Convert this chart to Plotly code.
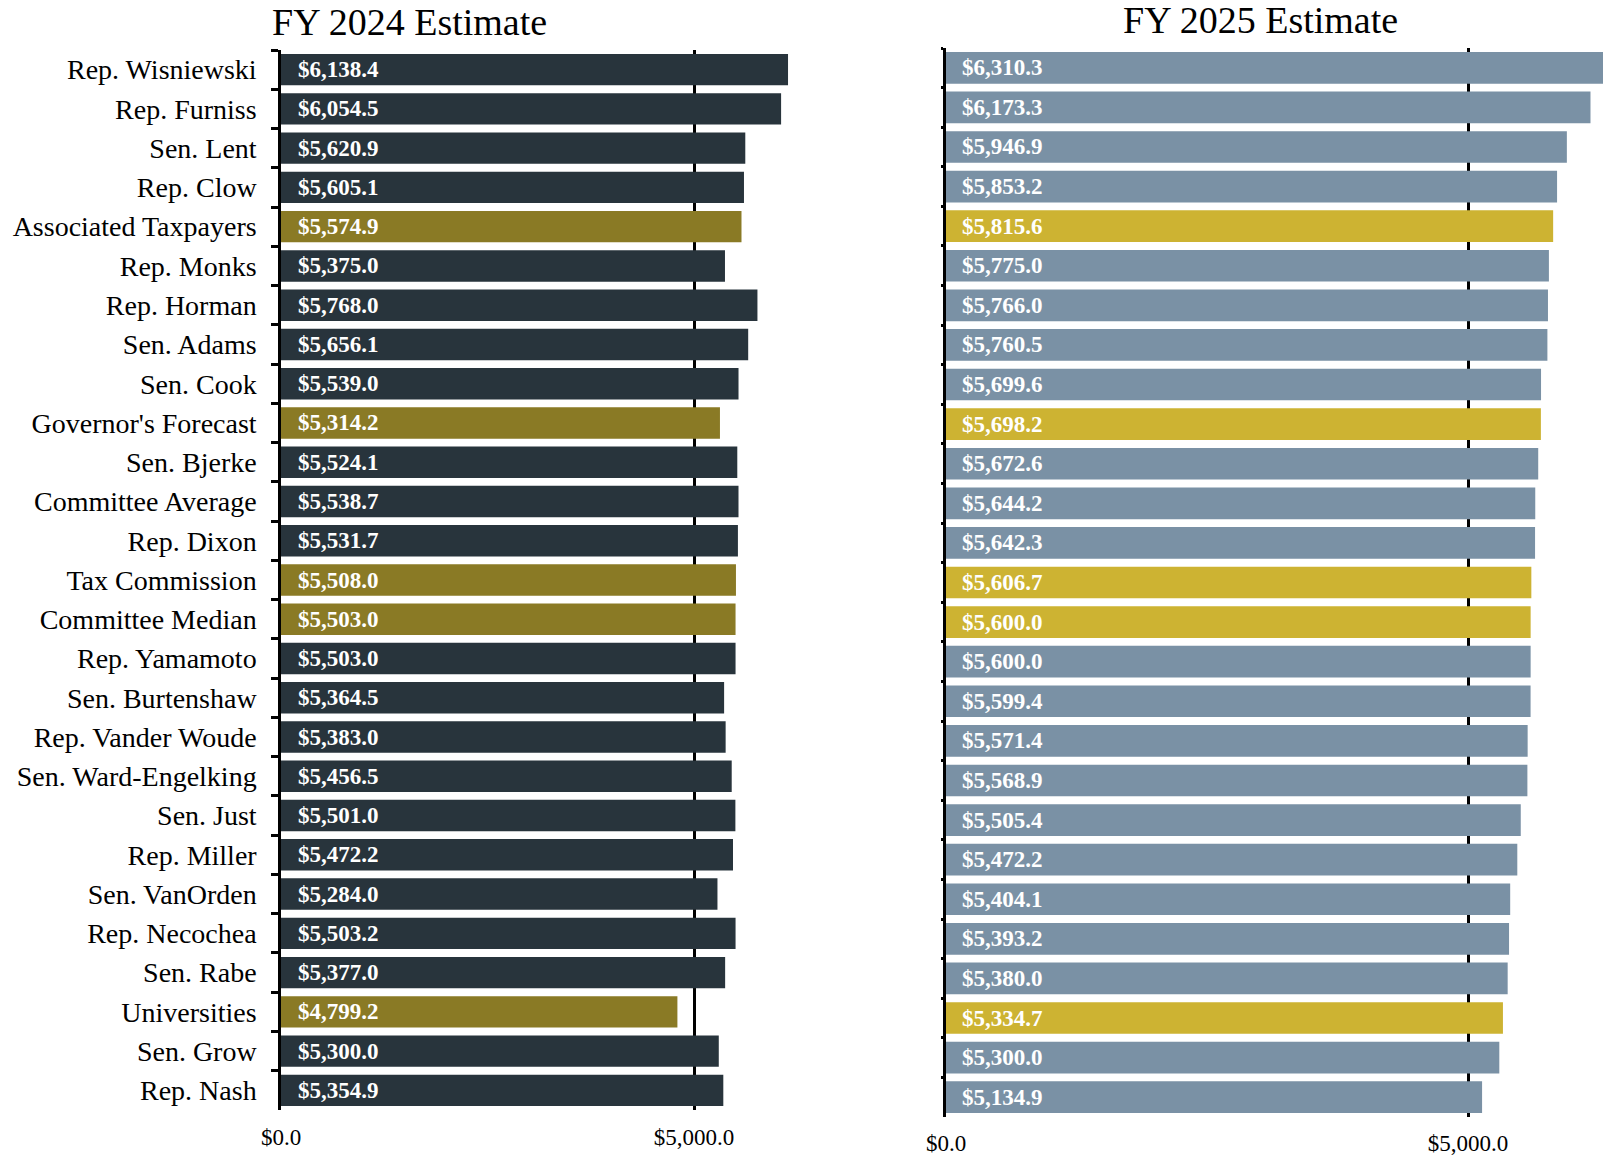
import plotly.graph_objects as go

# ---------------- data ----------------
fy2024_names = [
    "Rep. Wisniewski", "Rep. Furniss", "Sen. Lent", "Rep. Clow", "Associated Taxpayers",
    "Rep. Monks", "Rep. Horman", "Sen. Adams", "Sen. Cook", "Governor's Forecast",
    "Sen. Bjerke", "Committee Average", "Rep. Dixon", "Tax Commission", "Committee Median",
    "Rep. Yamamoto", "Sen. Burtenshaw", "Rep. Vander Woude", "Sen. Ward-Engelking", "Sen. Just",
    "Rep. Miller", "Sen. VanOrden", "Rep. Necochea", "Sen. Rabe", "Universities",
    "Sen. Grow", "Rep. Nash",
]
fy2024_values = [
    6138.4, 6054.5, 5620.9, 5605.1, 5574.9,
    5375.0, 5768.0, 5656.1, 5539.0, 5314.2,
    5524.1, 5538.7, 5531.7, 5508.0, 5503.0,
    5503.0, 5364.5, 5383.0, 5456.5, 5501.0,
    5472.2, 5284.0, 5503.2, 5377.0, 4799.2,
    5300.0, 5354.9,
]
fy2024_highlight = ["Associated Taxpayers", "Governor's Forecast", "Tax Commission",
                    "Committee Median", "Universities"]

fy2025_rows = [f"r{i + 1}" for i in range(27)]
fy2025_values = [
    6310.3, 6173.3, 5946.9, 5853.2, 5815.6,
    5775.0, 5766.0, 5760.5, 5699.6, 5698.2,
    5672.6, 5644.2, 5642.3, 5606.7, 5600.0,
    5600.0, 5599.4, 5571.4, 5568.9, 5505.4,
    5472.2, 5404.1, 5393.2, 5380.0, 5334.7,
    5300.0, 5134.9,
]
fy2025_highlight = [False, False, False, False, True,
                    False, False, False, False, True,
                    False, False, False, True, True,
                    False, False, False, False, False,
                    False, False, False, False, True,
                    False, False]

x_tick_vals = [0, 5000]
x_tick_text = ["$0.0", "$5,000.0"]

# ---------------- styles ----------------
FONT = "Liberation Serif, Times New Roman, serif"
C24, C24_HL = "#28343c", "#8a7a25"
C25, C25_HL = "#7a91a5", "#cdb332"

W, H = 1603, 1155

def fmt(v):
    return f"${v:,.1f}"

fig = go.Figure()

fig.add_trace(go.Bar(
    x=fy2024_values, y=fy2024_names, orientation="h",
    marker=dict(color=[C24_HL if n in fy2024_highlight else C24 for n in fy2024_names], line_width=0),
    xaxis="x", yaxis="y", showlegend=False, hoverinfo="x+y",
))
fig.add_trace(go.Bar(
    x=fy2025_values, y=fy2025_rows, orientation="h",
    marker=dict(color=[C25_HL if h else C25 for h in fy2025_highlight], line_width=0),
    xaxis="x2", yaxis="y2", showlegend=False, hoverinfo="x",
))

annotations = []
for n, v in zip(fy2024_names, fy2024_values):
    annotations.append(dict(x=0, y=n, xref="x", yref="y", text=fmt(v), showarrow=False,
                            xanchor="left", xshift=15,
                            font=dict(family=FONT, size=23, color="white", weight="bold")))
for r, v in zip(fy2025_rows, fy2025_values):
    annotations.append(dict(x=0, y=r, xref="x2", yref="y2", text=fmt(v), showarrow=False,
                            xanchor="left", xshift=14,
                            font=dict(family=FONT, size=23, color="white", weight="bold")))

annotations.append(dict(x=409 / W, y=1 - 22.5 / H, xref="paper", yref="paper",
                        text="FY 2024 Estimate", showarrow=False, xanchor="center", yanchor="middle",
                        font=dict(family=FONT, size=38, color="black")))
annotations.append(dict(x=1260 / W, y=1 - 20.5 / H, xref="paper", yref="paper",
                        text="FY 2025 Estimate", showarrow=False, xanchor="center", yanchor="middle",
                        font=dict(family=FONT, size=38, color="black")))

xcommon = dict(tickvals=x_tick_vals, ticktext=x_tick_text, showgrid=True, gridcolor="black",
               gridwidth=2.5, zeroline=False, showline=False, ticks="", automargin=False,
               tickfont=dict(family=FONT, size=23, color="black"), layer="below traces",
               fixedrange=True)
ycommon = dict(type="category", autorange="reversed", showline=True, linecolor="black",
               linewidth=2.5, ticks="outside", tickson="boundaries", tickwidth=2.5,
               tickcolor="black", showgrid=False, zeroline=False, automargin=False)

fig.update_layout(
    width=W, height=H, autosize=False,
    margin=dict(l=0, r=0, t=0, b=0),
    plot_bgcolor="white", paper_bgcolor="white",
    bargap=0.2,
    font=dict(family=FONT, color="black"),
    xaxis=dict(domain=[281 / W, 880 / W], range=[0, 599 / 413 * 5000], anchor="y",
               ticklabelstandoff=11, **xcommon),
    yaxis=dict(domain=[1 - 1110 / H, 1 - 50 / H], anchor="x", ticklen=7,
               tickfont=dict(family=FONT, size=28, color="black"), ticklabelstandoff=16, **ycommon),
    xaxis2=dict(domain=[946 / W, 1.0], range=[0, 657 / 522 * 5000], anchor="y2",
                ticklabelstandoff=10, **xcommon),
    yaxis2=dict(domain=[1 - 1117 / H, 1 - 48 / H], anchor="x2", showticklabels=False, ticklen=2,
                **ycommon),
    annotations=annotations,
)

fig.write_html(
    "out.html",
    config={"displayModeBar": False},
    post_script="document.body.style.margin='0';document.body.style.overflow='hidden';"
                "document.documentElement.style.overflow='hidden';",
)
